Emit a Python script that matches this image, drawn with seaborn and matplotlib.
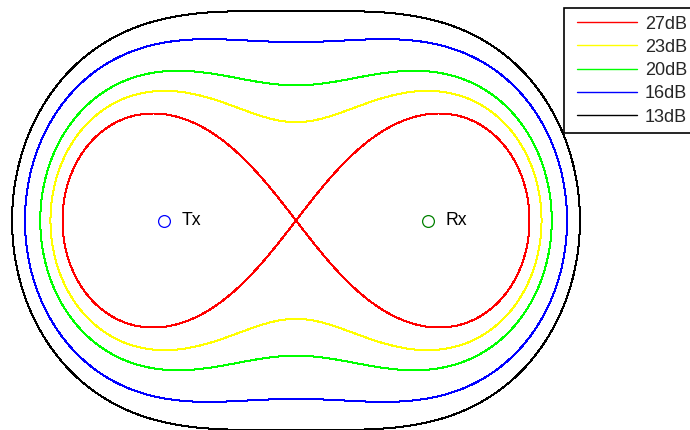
import numpy as np
import matplotlib
matplotlib.use("Agg")
import matplotlib.pyplot as plt
from matplotlib.lines import Line2D
from matplotlib.legend_handler import HandlerLine2D
import seaborn as sns

# SNR contour levels (dB), legend order, and their colours
levels_db = [27, 23, 20, 16, 13]
level_labels = ["27dB", "23dB", "20dB", "16dB", "13dB"]
level_colors = ["#ff0000", "#ffff00", "#00ff00", "#0000ff", "#000000"]

# transmitter / receiver sites (baseline units)
site_names = ["Tx", "Rx"]
site_x = [-0.8, 0.8]
site_y = [0.0, 0.0]
site_colors = ["#0000ff", "#008000"]

# bistatic SNR model: SNR = ref - k * log10(R1 * R2), foci at +-1
snr_ref_db = 27.0
range_slope_db = 48.0
focus_x = [-1.0, 1.0]

sns.set_theme(style="white")
plt.rcParams["font.family"] = ["Liberation Sans", "DejaVu Sans"]

fig = plt.figure(figsize=(6.9, 4.3), dpi=100)
ax = fig.add_axes([0, 0, 1, 1])

gx = np.linspace(-2.0, 2.2, 841)
gy = np.linspace(-1.1, 1.1, 441)
GX, GY = np.meshgrid(gx, gy)
r1 = np.hypot(GX - focus_x[0], GY)
r2 = np.hypot(GX - focus_x[1], GY)
snr = snr_ref_db - range_slope_db * np.log10(r1 * r2)

order = np.argsort(levels_db)
asc_levels = [levels_db[i] for i in order]
asc_colors = [level_colors[i] for i in order]
cs = ax.contour(GX, GY, snr, levels=asc_levels, colors=asc_colors,
                linewidths=0.72)
cs.set_antialiased(False)

for name, sx, sy, col in zip(site_names, site_x, site_y, site_colors):
    ax.plot(sx, sy, "o", mfc="none", mec=col, ms=8.5, mew=0.9)
    ax.annotate(name, (sx, sy), xytext=(12.8, 0), textcoords="offset points",
                ha="left", va="center", fontsize=12.7, color="black")

ax.set_xlim(-296 / 165.1, 394 / 165.1)
ax.set_ylim(-209.5 / 214.0, 220.5 / 214.0)
ax.set_axis_off()

handles = [Line2D([], [], color=c, lw=1.0) for c in level_colors]
leg = ax.legend(handles, level_labels, loc="upper left",
                bbox_to_anchor=(564 / 690, 1 - 8 / 430), bbox_transform=fig.transFigure,
                borderaxespad=0, fancybox=False, framealpha=1,
                edgecolor="black", fontsize=13, handlelength=3.61,
                handletextpad=0.44, borderpad=0.42, labelspacing=0.345,
                handler_map={Line2D: HandlerLine2D(xpad=0.3)})
leg.get_frame().set_linewidth(1.2)

fig.savefig("out.png", dpi=100, facecolor="white")
